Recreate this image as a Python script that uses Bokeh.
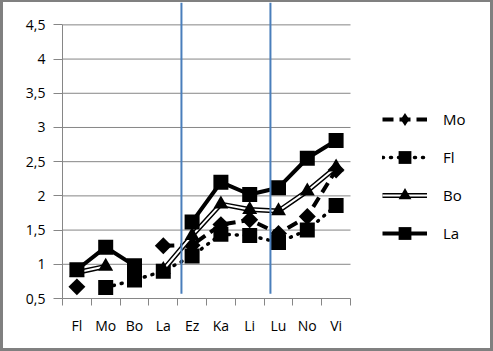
import math
from bokeh.plotting import figure
from bokeh.models import Range1d, FixedTicker, Legend, LegendItem
from bokeh.embed import file_html
from bokeh.resources import INLINE

nan = float("nan")

categories = ["Fl", "Mo", "Bo", "La", "Ez", "Ka", "Li", "Lu", "No", "Vi"]
mo_values = [0.67, nan, nan, 1.27, 1.28, 1.58, 1.65, 1.45, 1.70, 2.38]
fl_values = [nan, 0.66, 0.77, 0.90, 1.12, 1.44, 1.42, 1.32, 1.50, 1.86]
bo_values = [0.88, 0.97, nan, 0.92, 1.42, 1.88, 1.80, 1.78, 2.07, 2.42]
la_values = [0.92, 1.25, 0.98, nan, 1.62, 2.20, 2.02, 2.12, 2.55, 2.81]
series_names = ["Mo", "Fl", "Bo", "La"]

y_ticks = [0.5, 1, 1.5, 2, 2.5, 3, 3.5, 4, 4.5]
y_tick_labels = ["0,5", "1", "1,5", "2", "2,5", "3", "3,5", "4", "4,5"]

divider_x = [4.13, 7.22]

GRAY = "#868686"
BLUE = "#4a7ebb"
FONT = "Open Sans"

n = len(categories)
xs = [i + 0.5 for i in range(n)]
X_END = n * 434 / 288  # frame runs to the right edge; categories use 288 px
Y_TOP = 4.827

p = figure(width=493, height=351, output_backend="svg", toolbar_location=None,
           x_range=Range1d(0, X_END), y_range=Range1d(0.5, Y_TOP),
           min_border_left=59, min_border_right=0, min_border_top=0,
           min_border_bottom=55)
p.styles = {"border-style": "solid", "border-color": "#808080",
            "border-width": "2px 3px 3px 3px", "box-sizing": "border-box",
            "overflow": "hidden"}
p.outline_line_color = None
p.background_fill_color = "white"
p.border_fill_color = "white"
p.xgrid.visible = False
p.ygrid.visible = False

# axes
p.xaxis.ticker = FixedTicker(ticks=xs, minor_ticks=list(range(n + 1)))
p.xaxis.major_label_overrides = {x: c for x, c in zip(xs, categories)}
p.xaxis.bounds = (0, n)
p.xaxis.major_tick_out = 0
p.xaxis.major_tick_in = 0
p.xaxis.minor_tick_out = 7
p.xaxis.minor_tick_in = 0
p.xaxis.minor_tick_line_color = GRAY
p.xaxis.axis_line_color = GRAY
p.xaxis.major_label_standoff = 10

yt = FixedTicker(ticks=y_ticks, minor_ticks=[])
p.yaxis.ticker = yt
p.yaxis.major_label_overrides = {t: l for t, l in zip(y_ticks, y_tick_labels)}
p.yaxis.bounds = (0.5, 4.5)
p.yaxis.major_tick_out = 9
p.yaxis.major_tick_in = 0
p.yaxis.minor_tick_out = 0
p.yaxis.major_tick_line_color = GRAY
p.yaxis.axis_line_color = GRAY
p.yaxis.major_label_standoff = 8

for ax in (p.xaxis, p.yaxis):
    ax.major_label_text_font = FONT
    ax.major_label_text_font_size = "14px"
    ax.major_label_text_color = "black"

# horizontal gridlines limited to the category span
p.segment(x0=[0] * len(y_ticks), y0=y_ticks, x1=[n] * len(y_ticks), y1=y_ticks,
          line_color=GRAY, line_width=1)

# series
mo_line = p.line(xs, mo_values, line_color="black", line_width=4, line_dash="11 6")
mo_pts = p.scatter(xs, mo_values, marker="square", size=12, angle=math.pi / 4,
                   fill_color="black", line_color=None)
# legend-only diamond (the legend does not rotate markers); NaN point draws nothing
mo_key = p.scatter(x=[nan], y=[nan], marker="diamond", size=12,
                   fill_color="black", line_color=None)

fl_line = p.line(xs, fl_values, line_color="black", line_width=3.5, line_dash="1 7",
                 line_cap="round")
fl_pts = p.scatter(xs, fl_values, marker="square", size=15,
                   fill_color="black", line_color=None)

bo_outer = p.line(xs, bo_values, line_color="black", line_width=5)
bo_inner = p.line(xs, bo_values, line_color="white", line_width=2)
bo_pts = p.scatter(xs, bo_values, marker="triangle", size=15,
                   fill_color="black", line_color=None)

la_line = p.line(xs, la_values, line_color="black", line_width=4)
la_pts = p.scatter(xs, la_values, marker="square", size=15,
                   fill_color="black", line_color=None)

# dividers
p.segment(x0=divider_x, y0=[0.57] * 2, x1=divider_x, y1=[Y_TOP] * 2,
          line_color=BLUE, line_width=2)

legend = Legend(items=[
    LegendItem(label=series_names[0], renderers=[mo_line, mo_key]),
    LegendItem(label=series_names[1], renderers=[fl_line, fl_pts]),
    LegendItem(label=series_names[2], renderers=[bo_outer, bo_inner, bo_pts]),
    LegendItem(label=series_names[3], renderers=[la_line, la_pts]),
], location=(320, 49), glyph_width=45, glyph_height=32, label_height=32,
    spacing=6, label_standoff=16, padding=0, margin=0,
    border_line_color=None, background_fill_alpha=0,
    label_text_font=FONT, label_text_font_size="15px", label_text_color="black")
p.add_layout(legend)

open("out.html", "w").write(file_html(p, INLINE))
